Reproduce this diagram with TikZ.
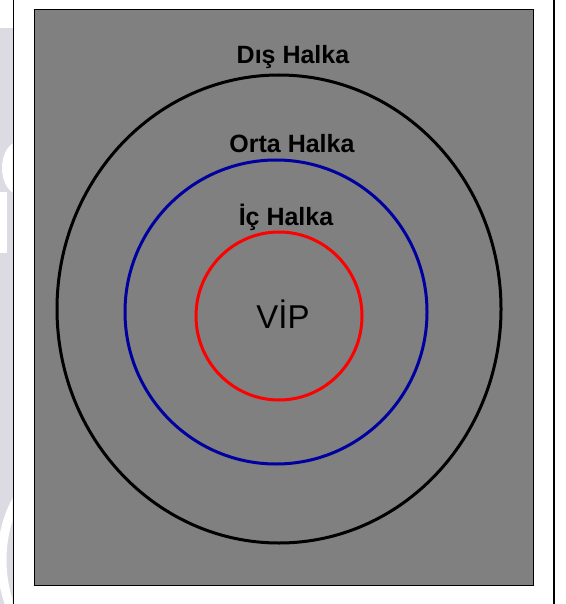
\documentclass[tikz,border=0pt]{standalone}
\usepackage{fontspec}
\setmainfont{Liberation Sans}
\definecolor{bggray}{HTML}{808080}
\definecolor{ringblue}{HTML}{0000A0}
\definecolor{lav}{HTML}{DCDAE2}
\tikzset{
  ring/.style={line width=3pt},
  ringlabel/.style={font=\fontsize{25}{28}\selectfont\bfseries, inner sep=0pt, anchor=base},
  frameline/.style={line width=1.5pt, black}
}
\begin{document}
\begin{tikzpicture}[x=1pt,y=-1pt]
\useasboundingbox (0,0) rectangle (565,604);
\fill[white] (0,0) rectangle (565,604);
% watermark strip on the left
\fill[lav] (0,28) rectangle (12.5,604);
\begin{scope}
\clip (0,28) rectangle (12.5,604);
\fill[white] (18,168) ellipse (16 and 26);
\fill[white] (0,192) rectangle (7,253);
\draw[white, line width=9pt] (60,560) ellipse (58 and 90);
\end{scope}
% frame lines
\draw[frameline] (13.5,0) coordinate (fl1) -- (13.5,604) coordinate (fl2);
\draw[frameline] (554,0) coordinate (fr1) -- (554,604) coordinate (fr2);
% gray panel
\draw[black!20, line width=0.6pt] (34,9) -- (533,9);
\draw[black, line width=1pt, fill=bggray] (34,10) rectangle (533,585);
% rings
\draw[ring, black] (279,309) ellipse (222 and 234);
\draw[ring, ringblue] (276,312) ellipse (151 and 152);
\draw[ring, red] (279,316) ellipse (83 and 84);
% labels
\node[ringlabel] (dis) at (293,64) {Dış Halka};
\node[ringlabel] (orta) at (292,153) {Orta Halka};
\node[ringlabel] (ic) at (286,225) {İç Halka};
\node[font=\fontsize{33}{36}\selectfont, inner sep=0pt, anchor=base] (vip) at (283,328) {VİP};
\end{tikzpicture}
\end{document}
